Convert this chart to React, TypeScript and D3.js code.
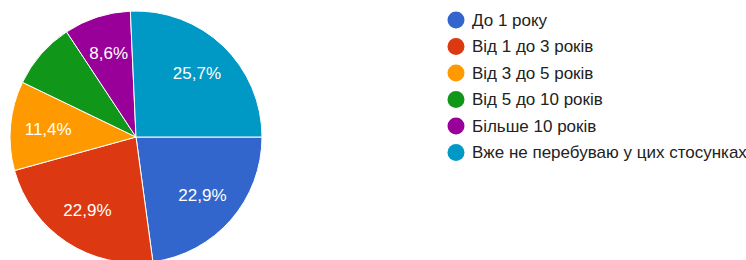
import React, { useEffect, useRef } from 'react';
import * as d3 from 'd3';

const categories = [
  'До 1 року',
  'Від 1 до 3 років',
  'Від 3 до 5 років',
  'Від 5 до 10 років',
  'Більше 10 років',
  'Вже не перебуваю у цих стосунках',
];
const counts = [8, 8, 4, 3, 3, 9];
const colors = ['#3366cc', '#dc3912', '#ff9900', '#109618', '#990099', '#0099c6'];
// the green slice has no text on it in the original
const hiddenLabels = ['Від 5 до 10 років'];

const width = 746;
const height = 260;

const App: React.FC = () => {
  const ref = useRef<SVGSVGElement | null>(null);

  useEffect(() => {
    if (!ref.current) return;
    const svg = d3.select(ref.current);
    svg.selectAll('*').remove();

    const cx = 136;
    const cy = 137;
    const r = 126;
    const total = d3.sum(counts);

    const pie = d3.pie<number>()
      .sort(null)
      .startAngle(Math.PI / 2)
      .endAngle(Math.PI / 2 + 2 * Math.PI);
    const arcs = pie(counts);

    const arc = d3.arc<d3.PieArcDatum<number>>().innerRadius(0).outerRadius(r);
    const labelArc = d3.arc<d3.PieArcDatum<number>>().innerRadius(r * 0.7).outerRadius(r * 0.7);

    const g = svg.append('g').attr('transform', `translate(${cx},${cy})`);

    g.selectAll('path.slice')
      .data(arcs)
      .enter()
      .append('path')
      .attr('class', 'slice')
      .attr('d', arc)
      .attr('fill', (_, i) => colors[i])
      .attr('stroke', '#fff')
      .attr('stroke-width', 1);

    const fmt = (v: number) => (v / total * 100).toFixed(1).replace('.', ',') + '%';

    g.selectAll('text.label')
      .data(arcs.filter((_, i) => !hiddenLabels.includes(categories[i])))
      .enter()
      .append('text')
      .attr('class', 'label')
      .attr('transform', d => `translate(${labelArc.centroid(d)})`)
      .attr('text-anchor', 'middle')
      .attr('dominant-baseline', 'central')
      .style('font-family', '"Liberation Sans", Arial, sans-serif')
      .style('font-size', '17px')
      .style('fill', '#fff')
      .text(d => fmt(d.value));

    // legend
    const legendY = d3.scalePoint<string>()
      .domain(categories)
      .range([20, 152.5]);

    const legend = svg.append('g');
    const items = legend.selectAll('g.item')
      .data(categories)
      .enter()
      .append('g')
      .attr('class', 'item')
      .attr('transform', d => `translate(456,${legendY(d)})`);

    items.append('circle')
      .attr('r', 8.5)
      .attr('fill', (_, i) => colors[i]);

    items.append('text')
      .attr('x', 16)
      .attr('dominant-baseline', 'central')
      .style('font-family', '"Liberation Sans", Arial, sans-serif')
      .style('font-size', '17px')
      .style('fill', '#222')
      .text(d => d);
  }, []);

  return (
    <svg
      ref={ref}
      width={width}
      height={height}
      style={{ position: 'absolute', left: 0, top: 0, background: '#fff' }}
    />
  );
};

export default App;
